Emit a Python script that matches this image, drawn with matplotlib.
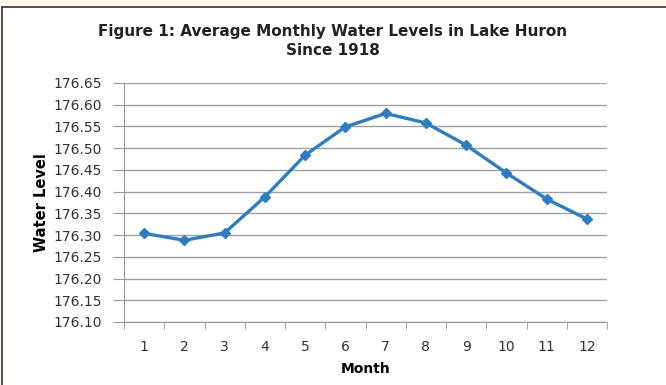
import matplotlib.pyplot as plt
from matplotlib.patches import Rectangle
import numpy as np

# Data
months = [1, 2, 3, 4, 5, 6, 7, 8, 9, 10, 11, 12]
levels = [176.304, 176.288, 176.305, 176.388, 176.484, 176.549,
          176.580, 176.558, 176.507, 176.443, 176.383, 176.337]
yticks = [176.10, 176.15, 176.20, 176.25, 176.30, 176.35, 176.40,
          176.45, 176.50, 176.55, 176.60, 176.65]

plt.rcParams['font.family'] = ['DejaVu Sans']

fig = plt.figure(figsize=(6.66, 3.85), dpi=100)
fig.patch.set_facecolor('#fdf8ee')
# white chart box with dark border
fig.add_artist(Rectangle((2 / 666, -0.01), 1.0, 1 - 7 / 385 + 0.01,
                         transform=fig.transFigure, facecolor='white',
                         edgecolor='#333333', linewidth=1.2, zorder=0))

ax = fig.add_axes([124 / 666, 1 - 322 / 385, (607 - 124) / 666, (322 - 83) / 385])
ax.set_facecolor('none')

ax.plot(months, levels, color='#2e7dc2', linewidth=2.4, marker='D',
        markersize=5.5, zorder=3)

ax.set_xlim(0.5, 12.5)
ax.set_ylim(176.10, 176.65)
ax.set_yticks(yticks)
ax.set_yticklabels([f'{v:.2f}' for v in yticks])
ax.set_xticks(months)
ax.set_xticklabels([str(m) for m in months])
ax.set_xticks(np.arange(0.5, 13, 1), minor=True)
ax.tick_params(axis='x', which='major', length=0, pad=13, labelsize=10, labelcolor='#333333')
ax.tick_params(axis='x', which='minor', length=5, color='#999999', direction='out')
ax.tick_params(axis='y', length=8, color='#999999', labelsize=10, labelcolor='#333333', pad=8)

ax.grid(axis='y', color='#a0a0a0', linewidth=1.0)
ax.set_axisbelow(True)
for s in ['top', 'right']:
    ax.spines[s].set_visible(False)
ax.spines['left'].set_color('#999999')
ax.spines['bottom'].set_color('#999999')

ax.set_xlabel('Month', fontsize=10, fontweight='bold', labelpad=6)
ax.set_ylabel('Water Level', fontsize=10.5, fontweight='bold', labelpad=3)

fig.text(0.5, 1 - 41 / 385, 'Figure 1: Average Monthly Water Levels in Lake Huron\nSince 1918',
         ha='center', va='center', fontsize=11, fontweight='bold',
         linespacing=1.4, color='#222222')

fig.savefig('out.png', dpi=100, facecolor=fig.get_facecolor())
